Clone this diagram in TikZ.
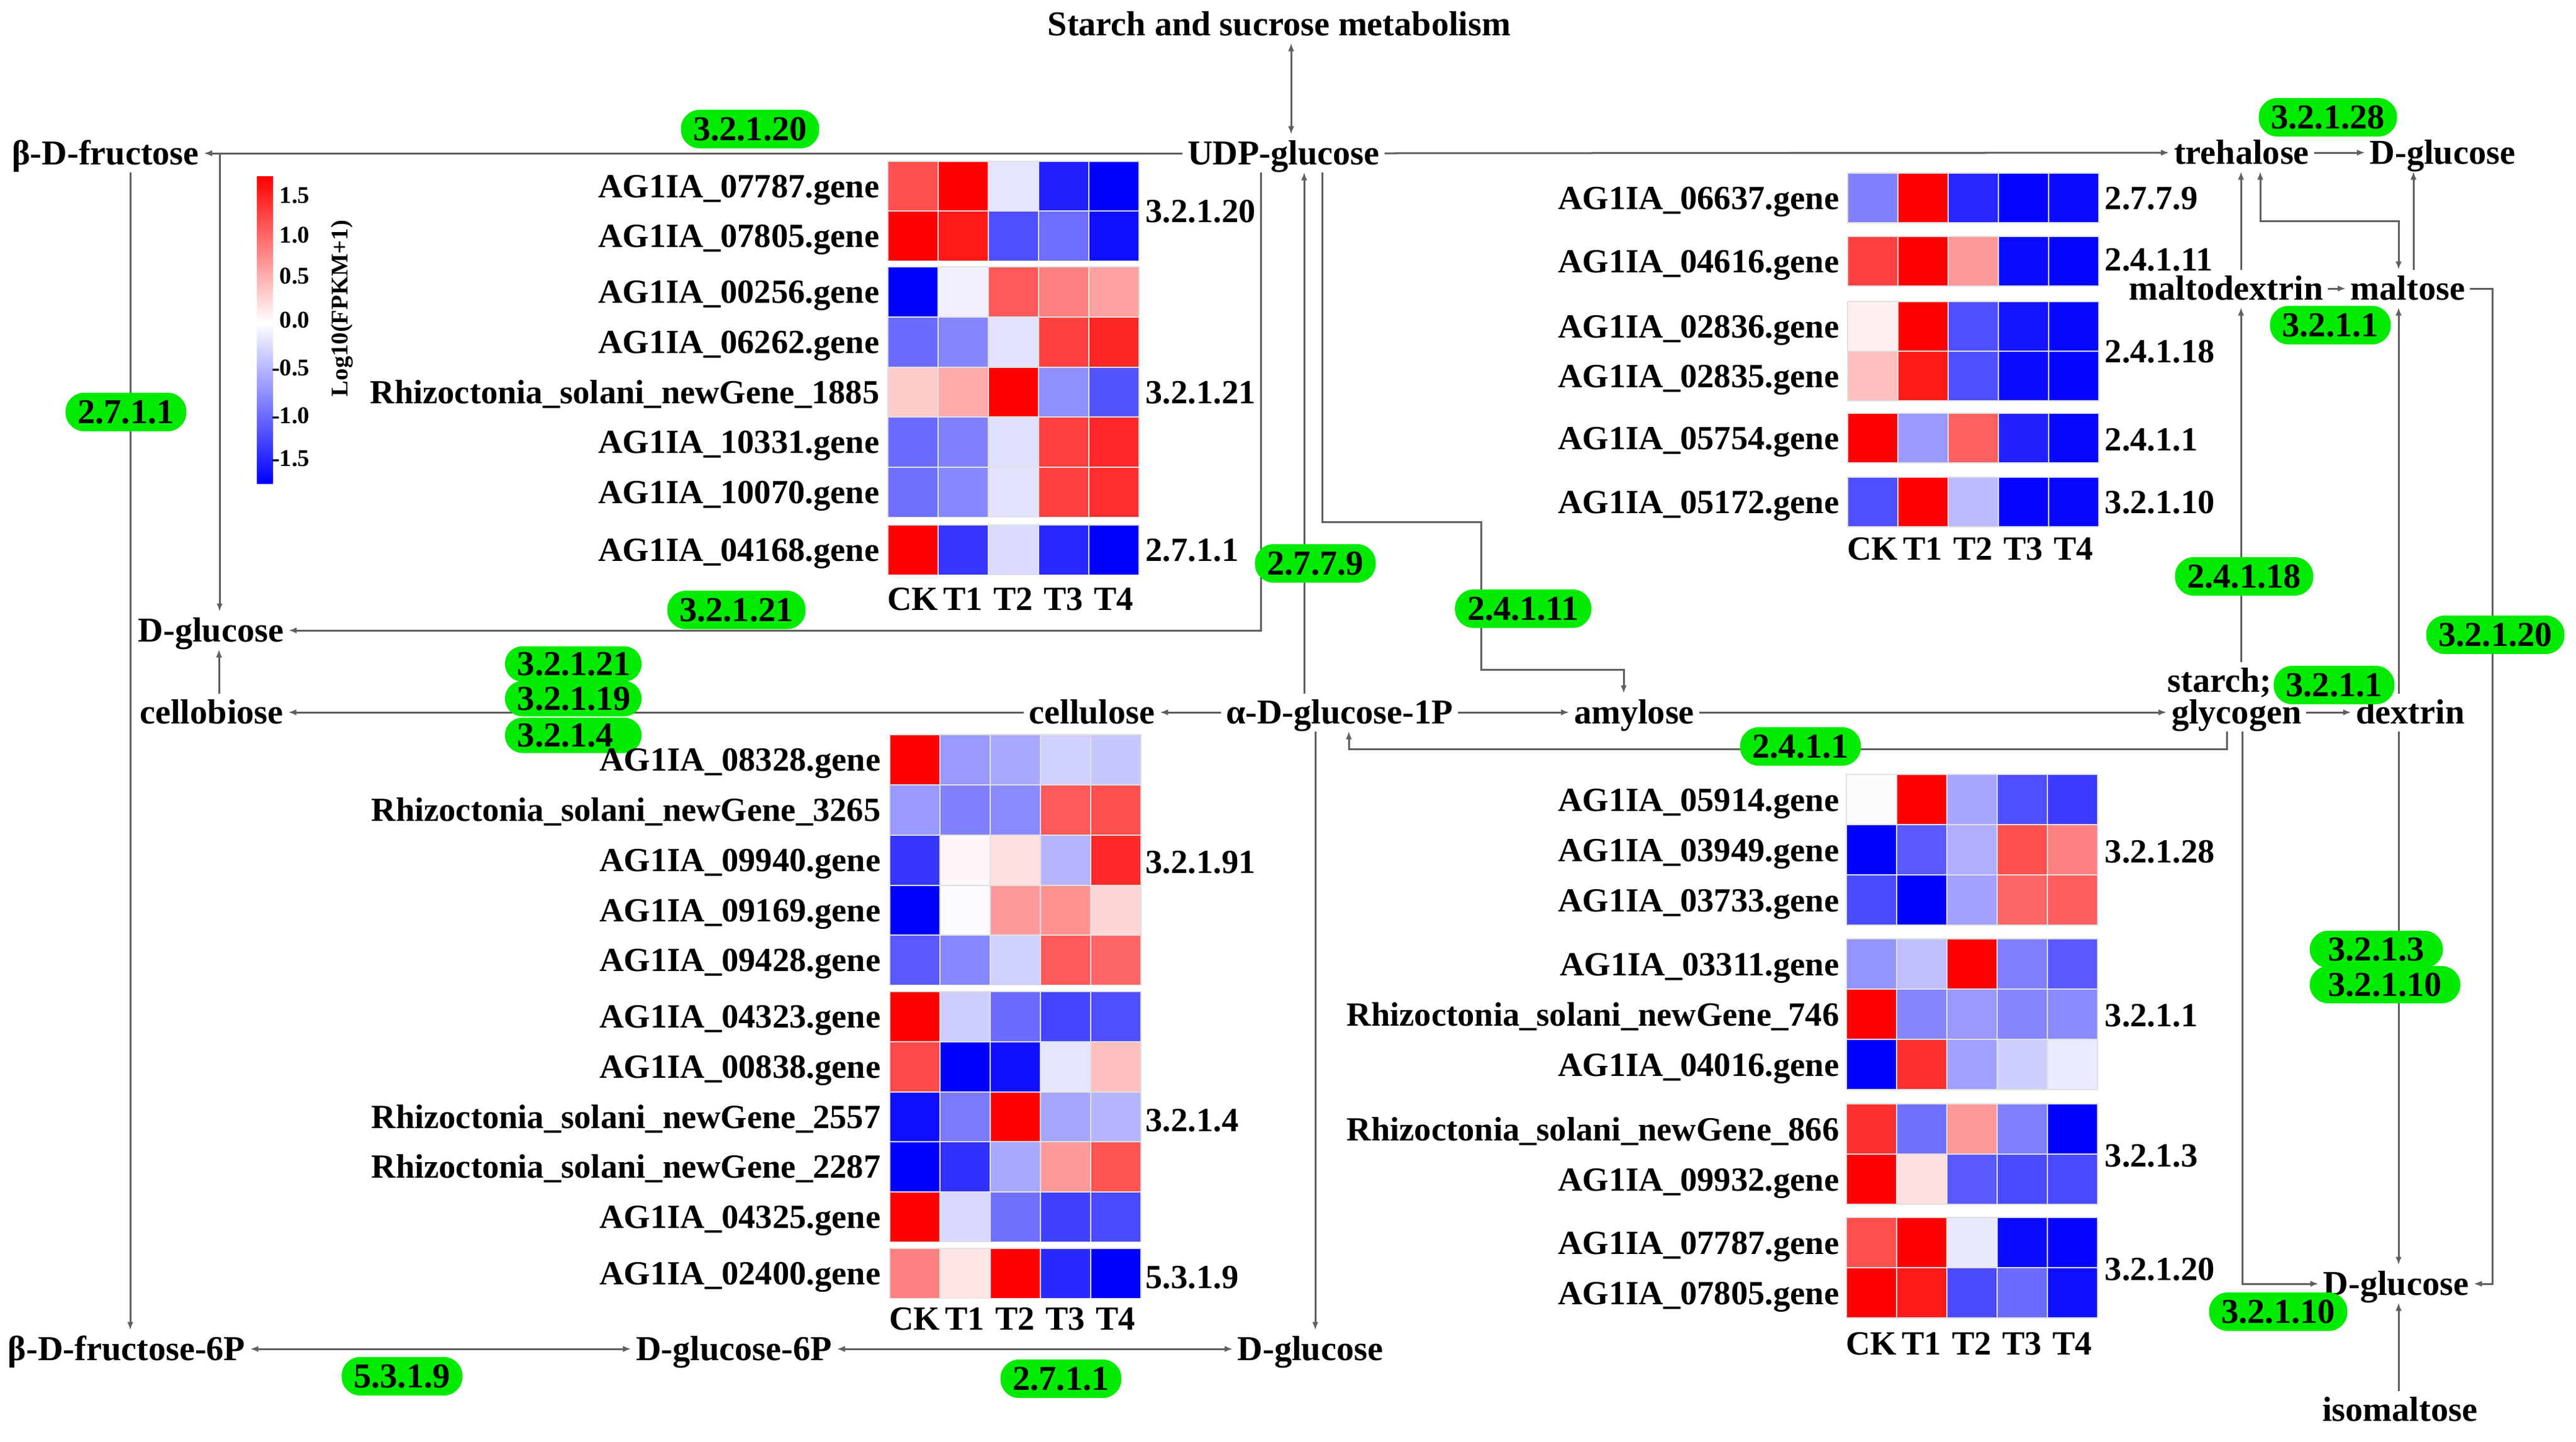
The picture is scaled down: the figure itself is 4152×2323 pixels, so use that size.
\documentclass[tikz,border=0pt]{standalone}
\usepackage{fontspec}
\setmainfont{Liberation Serif}
\usetikzlibrary{arrows.meta}
\definecolor{pillgreen}{RGB}{0,235,0}
\definecolor{linegray}{RGB}{95,95,95}
\newcommand\metfont{\fontsize{16pt}{19pt}\selectfont\bfseries}
\newcommand\genefont{\fontsize{15.5pt}{18pt}\selectfont\bfseries}
\newcommand\cbfont{\fontsize{11pt}{13pt}\selectfont\bfseries}
\newcommand\hmrow[4]{%
  \foreach \v [count=\i from 0] in {#4} {
    \pgfmathtruncatemacro\xa{#1+81*\i}
    \pgfmathtruncatemacro\av{abs(\v)}
    \ifnum\v<0 \def\cc{blue}\else\def\cc{red}\fi
    \fill[\cc!\av!white, draw=black!12, line width=0.35pt] (\xa,#2) rectangle ++(81,#3);
  }}
\tikzset{
  met/.style={font=\metfont, inner sep=0pt, text height=0.37cm, text depth=0pt, outer xsep=0.08cm, outer ysep=0.12cm},
  gene/.style={font=\genefont, inner sep=0pt, text height=0.36cm, text depth=0pt, anchor=east},
  ec/.style={font=\genefont, inner sep=0pt, text height=0.36cm, text depth=0pt, anchor=west},
  smp/.style={font=\genefont, inner sep=0pt, text height=0.36cm, text depth=0pt},
  pill/.style={fill=pillgreen, rounded corners=0.3cm, font=\metfont, inner xsep=0.2cm, inner ysep=0.125cm, text height=0.37cm, text depth=0pt},
  pillw/.style={fill=pillgreen, rounded corners=0.28cm, font=\metfont, inner xsep=0.2cm, inner ysep=0.1cm, text width=1.8cm, align=left, text height=0.37cm, text depth=0pt},
  pilll/.style={fill=pillgreen, rounded corners=0.3cm, font=\metfont, inner xsep=0.3cm, inner ysep=0.115cm, text height=0.37cm, text depth=0pt, anchor=west},
  conn/.style={draw=linegray, line width=0.03cm},
  arr/.style={conn, -{Latex[length=0.13cm,width=0.1cm]}},
  darr/.style={conn, {Latex[length=0.13cm,width=0.1cm]}-{Latex[length=0.13cm,width=0.1cm]}},
  cbl/.style={font=\cbfont, inner sep=0pt, anchor=east}
}
\begin{document}
\begin{tikzpicture}[x=0.01cm, y=-0.01cm]
\useasboundingbox (0,0) rectangle (4152,2323);
\fill[white] (0,0) rectangle (4152,2323);

% ---------- metabolites ----------
\node[met] (starch) at (2062,39) {Starch and sucrose metabolism};
\node[met] (udp) at (2069,247) {UDP-glucose};
\node[met] (bfru) at (170,247) {β-D-fructose};
\node[met] (dglcL) at (340,1016) {D-glucose};
\node[met] (cellob) at (341,1148) {cellobiose};
\node[met] (cellul) at (1760,1148) {cellulose};
\node[met] (ag1p) at (2159,1148) {α-D-glucose-1P};
\node[met] (amyl) at (2634,1148) {amylose};
\node[met, anchor=west] (starchS) at (3493,1097) {\phantom{starch;}};
\node[met, anchor=west] (glyc) at (3492,1148) {glycogen};
\node[met] (dextrin) at (3885,1148) {dextrin};
\node[met] (treh) at (3613,246) {trehalose};
\node[met] (dglcT) at (3937,246) {D-glucose};
\node[met] (maltod) at (3588,465) {maltodextrin};
\node[met] (maltose) at (3881,465) {maltose};
\node[met] (dglcR) at (3862,2069) {D-glucose};
\node[met] (isomal) at (3868,2272) {isomaltose};
\node[met] (bf6p) at (204,2174) {β-D-fructose-6P};
\node[met] (dg6p) at (1183,2174) {D-glucose-6P};
\node[met] (dglcB) at (2112,2174) {D-glucose};

% ---------- connectors ----------
\draw[darr] (starch.south -| 2081,0) -- (udp.north -| 2081,0);
\draw[arr] (udp.west) -- (bfru.east);
\draw[arr] (bfru.east -| 354,0) -- (dglcL.north -| 354,0);
\draw[arr] (udp.south -| 2032,0) |- (dglcL.east);
\draw[arr] (cellob.north -| 353,0) -- (dglcL.south -| 353,0);
\draw[arr] (cellul.west) -- (cellob.east);
\draw[arr] (ag1p.west) -- (cellul.east);
\draw[arr] (ag1p.north -| 2102,0) -- (udp.south -| 2102,0);
\draw[arr] (udp.south -| 2131,0) -- (2131,841) -- (2387,841) -- (2387,1079) -- (2617,1079) -- (amyl.north -| 2617,0);
\draw[arr] (ag1p.east) -- (amyl.west);
\draw[arr] (amyl.east) -- (glyc.west);
\draw[arr] (glyc.south -| 3589,0) |- (2174,1207) -- (ag1p.south -| 2174,0);
\draw[arr] (ag1p.south -| 2120,0) -- (dglcB.north -| 2120,0);
\draw[darr] (bf6p.east) -- (dg6p.west);
\draw[darr] (dg6p.east) -- (dglcB.west);
\draw[arr] (bfru.south -| 210,0) -- (bf6p.north -| 210,0);
\draw[arr] (udp.east) -- (treh.west);
\draw[arr] (treh.east) -- (dglcT.west);
\draw[arr] (maltod.north -| 3612,0) -- (treh.south -| 3612,0);
\draw[darr] (treh.south -| 3643,0) |- (3866,356) -- (maltose.north -| 3866,0);
\draw[arr] (maltose.north -| 3890,0) -- (dglcT.south -| 3890,0);
\draw[arr] (maltod.east) -- (maltose.west);
\draw[arr] (maltose.east) -| (dglcR.east -| 4017,0) -- (dglcR.east);
\draw[arr] (starchS.north -| 3612,0) -- (maltod.south -| 3612,0);
\draw[arr] (glyc.east) -- (dextrin.west);
\draw[arr] (dextrin.north -| 3866,0) -- (maltose.south -| 3866,0);
\draw[arr] (dextrin.south -| 3866,0) -- (dglcR.north -| 3866,0);
\draw[arr] (glyc.south -| 3614,0) |- (dglcR.west);
\draw[arr] (isomal.north -| 3866,0) -- (dglcR.south -| 3866,0);

% ---------- enzyme pills ----------
\node[pill] (p1) at (1209,208) {3.2.1.20};
\node[pill] (p2) at (203,664) {2.7.1.1};
\node[pill] (p3) at (1187,983) {3.2.1.21};
\node[pillw] (p4c) at (924,1185) {3.2.1.4};
\node[pillw] (p4b) at (924,1126) {3.2.1.19};
\node[pillw] (p4a) at (924,1070) {3.2.1.21};
\node[pill] (p5) at (2120,908) {2.7.7.9};
\node[pill] (p6) at (2455,981) {2.4.1.11};
\node[pill] (p7) at (2902,1203) {2.4.1.1};
\node[pill] (p8) at (648,2218) {5.3.1.9};
\node[pill] (p9) at (1710,2222) {2.7.1.1};
\node[pill] (p10) at (3752,189) {3.2.1.28};
\node[pill] (p11) at (3756,524) {3.2.1.1};
\node[pill] (p12) at (3617,929) {2.4.1.18};
\node[pill] (p13) at (4022,1023) {3.2.1.20};
\node[pill] (p14) at (3762,1104) {3.2.1.1};
\node[pilll] (p15) at (3722,1530) {3.2.1.3};
\node[pilll] (p16) at (3722,1587) {3.2.1.10};
\node[pill] (p17) at (3672,2114) {3.2.1.10};
\node[font=\metfont, inner sep=0pt, text height=0.37cm, text depth=0pt, anchor=west] (starchT) at (starchS.west) {starch;};

% ---------- colour bar ----------
\shade[top color=red, bottom color=white] (414,284) rectangle (440,520);
\shade[top color=white, bottom color=blue] (414,520) rectangle (440,779);
\node[cbl] (cb1) at (500,315) {1.5};
\node[cbl] (cb2) at (500,379) {1.0};
\node[cbl] (cb3) at (500,445) {0.5};
\node[cbl] (cb4) at (500,516) {0.0};
\node[cbl] (cb5) at (500,593) {-0.5};
\node[cbl] (cb6) at (500,670) {-1.0};
\node[cbl] (cb7) at (500,739) {-1.5};
\node[font=\cbfont, rotate=90, inner sep=0pt] (cbt) at (551,497) {Log10(FPKM+1)};

% ---------- heatmap top-left ----------
\hmrow{1431}{260}{80.5}{69,100,-10,-87,-100}
\hmrow{1431}{340}{80.5}{100,90,-69,-57,-94}
\hmrow{1431}{430}{80.5}{-100,-6,65,50,37}
\hmrow{1431}{511}{80.5}{-58,-48,-11,75,85}
\hmrow{1431}{592}{80.5}{20,33,100,-44,-67}
\hmrow{1431}{672}{80.5}{-58,-50,-12,75,84}
\hmrow{1431}{753}{80.5}{-56,-47,-11,75,82}
\hmrow{1431}{846}{80.5}{100,-79,-14,-84,-100}
\node[gene] (tl1) at (1418,300) {AG1IA\_07787.gene};
\node[gene] (tl2) at (1418,380) {AG1IA\_07805.gene};
\node[gene] (tl3) at (1418,470) {AG1IA\_00256.gene};
\node[gene] (tl4) at (1418,551) {AG1IA\_06262.gene};
\node[gene] (tl5) at (1418,632) {Rhizoctonia\_solani\_newGene\_1885};
\node[gene] (tl6) at (1418,712) {AG1IA\_10331.gene};
\node[gene] (tl7) at (1418,793) {AG1IA\_10070.gene};
\node[gene] (tl8) at (1418,886) {AG1IA\_04168.gene};
\node[ec] (tle1) at (1846,340) {3.2.1.20};
\node[ec] (tle2) at (1846,632) {3.2.1.21};
\node[ec] (tle3) at (1846,886) {2.7.1.1};
\node[smp] (tlc1) at (1471,965) {CK};
\node[smp] (tlc2) at (1552,965) {T1};
\node[smp] (tlc3) at (1633,965) {T2};
\node[smp] (tlc4) at (1714,965) {T3};
\node[smp] (tlc5) at (1795,965) {T4};

% ---------- heatmap top-right ----------
\hmrow{2978}{279}{80}{-50,100,-85,-98,-96}
\hmrow{2978}{381}{80}{75,100,40,-96,-98}
\hmrow{2978}{486}{80}{6,100,-69,-92,-97}
\hmrow{2978}{566}{80}{25,90,-69,-96,-98}
\hmrow{2978}{666}{80}{100,-40,62,-87,-97}
\hmrow{2978}{769}{80}{-69,100,-27,-98,-97}
\node[gene] (tr1) at (2965,319) {AG1IA\_06637.gene};
\node[gene] (tr2) at (2965,421) {AG1IA\_04616.gene};
\node[gene] (tr3) at (2965,526) {AG1IA\_02836.gene};
\node[gene] (tr4) at (2965,606) {AG1IA\_02835.gene};
\node[gene] (tr5) at (2965,706) {AG1IA\_05754.gene};
\node[gene] (tr6) at (2965,809) {AG1IA\_05172.gene};
\node[ec] (tre1) at (3392,319) {2.7.7.9};
\node[ec] (tre2) at (3392,418) {2.4.1.11};
\node[ec] (tre3) at (3392,566) {2.4.1.18};
\node[ec] (tre4) at (3392,708) {2.4.1.1};
\node[ec] (tre5) at (3392,809) {3.2.1.10};
\node[smp] (trc1) at (3018,884) {CK};
\node[smp] (trc2) at (3099,884) {T1};
\node[smp] (trc3) at (3180,884) {T2};
\node[smp] (trc4) at (3261,884) {T3};
\node[smp] (trc5) at (3342,884) {T4};

% ---------- heatmap bottom-left ----------
\hmrow{1434}{1184}{80.5}{100,-40,-34,-18,-22}
\hmrow{1434}{1265}{80.5}{-40,-50,-46,65,69}
\hmrow{1434}{1346}{80.5}{-79,3,12,-29,84}
\hmrow{1434}{1427}{80.5}{-100,-2,40,43,16}
\hmrow{1434}{1507}{80.5}{-65,-47,-18,65,60}
\hmrow{1434}{1598}{80.5}{100,-19,-58,-73,-69}
\hmrow{1434}{1679}{80.5}{71,-100,-94,-10,25}
\hmrow{1434}{1760}{80.5}{-94,-52,100,-35,-29}
\hmrow{1434}{1840}{80.5}{-100,-81,-34,40,67}
\hmrow{1434}{1921}{80.5}{100,-15,-56,-75,-71}
\hmrow{1434}{2012}{80.5}{50,10,100,-84,-100}
\node[gene] (bl1) at (1420,1224) {AG1IA\_08328.gene};
\node[gene] (bl2) at (1420,1305) {Rhizoctonia\_solani\_newGene\_3265};
\node[gene] (bl3) at (1420,1386) {AG1IA\_09940.gene};
\node[gene] (bl4) at (1420,1467) {AG1IA\_09169.gene};
\node[gene] (bl5) at (1420,1547) {AG1IA\_09428.gene};
\node[gene] (bl6) at (1420,1638) {AG1IA\_04323.gene};
\node[gene] (bl7) at (1420,1719) {AG1IA\_00838.gene};
\node[gene] (bl8) at (1420,1800) {Rhizoctonia\_solani\_newGene\_2557};
\node[gene] (bl9) at (1420,1880) {Rhizoctonia\_solani\_newGene\_2287};
\node[gene] (bl10) at (1420,1961) {AG1IA\_04325.gene};
\node[gene] (bl11) at (1420,2052) {AG1IA\_02400.gene};
\node[ec] (ble1) at (1846,1389) {3.2.1.91};
\node[ec] (ble2) at (1846,1805) {3.2.1.4};
\node[ec] (ble3) at (1846,2058) {5.3.1.9};
\node[smp] (blc1) at (1474,2125) {CK};
\node[smp] (blc2) at (1555,2125) {T1};
\node[smp] (blc3) at (1636,2125) {T2};
\node[smp] (blc4) at (1717,2125) {T3};
\node[smp] (blc5) at (1798,2125) {T4};

% ---------- heatmap bottom-right ----------
\hmrow{2976}{1248}{81}{-1,100,-35,-69,-77}
\hmrow{2976}{1329}{81}{-100,-65,-31,69,50}
\hmrow{2976}{1410}{81}{-71,-100,-37,60,63}
\hmrow{2976}{1513}{81}{-42,-25,100,-50,-65}
\hmrow{2976}{1594}{81}{100,-48,-40,-48,-46}
\hmrow{2976}{1675}{81}{-100,81,-37,-19,-8}
\hmrow{2976}{1779}{81}{81,-56,40,-50,-100}
\hmrow{2976}{1860}{81}{100,12,-65,-71,-71}
\hmrow{2976}{1962}{81}{69,100,-9,-96,-98}
\hmrow{2976}{2043}{81}{100,90,-71,-58,-94}
\node[gene] (br1) at (2965,1289) {AG1IA\_05914.gene};
\node[gene] (br2) at (2965,1370) {AG1IA\_03949.gene};
\node[gene] (br3) at (2965,1451) {AG1IA\_03733.gene};
\node[gene] (br4) at (2965,1554) {AG1IA\_03311.gene};
\node[gene] (br5) at (2965,1635) {Rhizoctonia\_solani\_newGene\_746};
\node[gene] (br6) at (2965,1716) {AG1IA\_04016.gene};
\node[gene] (br7) at (2965,1820) {Rhizoctonia\_solani\_newGene\_866};
\node[gene] (br8) at (2965,1901) {AG1IA\_09932.gene};
\node[gene] (br9) at (2965,2003) {AG1IA\_07787.gene};
\node[gene] (br10) at (2965,2084) {AG1IA\_07805.gene};
\node[ec] (bre1) at (3392,1372) {3.2.1.28};
\node[ec] (bre2) at (3392,1636) {3.2.1.1};
\node[ec] (bre3) at (3392,1862) {3.2.1.3};
\node[ec] (bre4) at (3392,2045) {3.2.1.20};
\node[smp] (brc1) at (3016,2165) {CK};
\node[smp] (brc2) at (3097,2165) {T1};
\node[smp] (brc3) at (3178,2165) {T2};
\node[smp] (brc4) at (3259,2165) {T3};
\node[smp] (brc5) at (3340,2165) {T4};
\end{tikzpicture}
\end{document}
